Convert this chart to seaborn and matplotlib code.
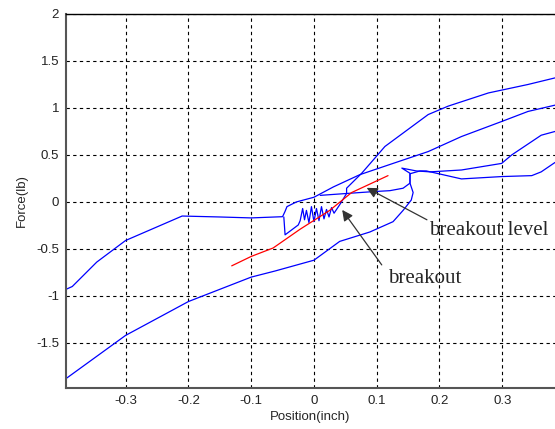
import matplotlib
matplotlib.use("Agg")
import matplotlib.pyplot as plt
import seaborn as sns
import pandas as pd

# upper-left branch joined to the middle right branch
a_x = [-0.395, -0.385, -0.346, -0.30, -0.21, -0.15, -0.10, -0.05, -0.046, -0.043, -0.028, 0.0, 0.031,
       0.073, 0.126, 0.182, 0.235, 0.299, 0.341, 0.384]
a_y = [-0.93, -0.90, -0.64, -0.41, -0.15, -0.16, -0.17, -0.157, -0.10, -0.05, 0.0, 0.05, 0.16,
       0.29, 0.41, 0.536, 0.696, 0.856, 0.963, 1.03]

# lower-left branch, loop at the right, then the 0.4-0.75 branch
b_x = [-0.395, -0.3, -0.2, -0.1, -0.062, 0.0, 0.041, 0.089, 0.126, 0.142, 0.155, 0.158, 0.153,
       0.153, 0.14, 0.163, 0.185, 0.235, 0.299, 0.315, 0.362, 0.384]
b_y = [-1.88, -1.42, -1.06, -0.80, -0.735, -0.62, -0.42, -0.32, -0.21, -0.09, 0.02, 0.10, 0.20,
       0.305, 0.36, 0.33, 0.32, 0.34, 0.41, 0.50, 0.71, 0.75]

# top branch coming down into the noisy breakout region
c_x = [0.384, 0.341, 0.278, 0.214, 0.182, 0.113, 0.097, 0.076, 0.052, 0.052, 0.041, 0.032,
       0.028, 0.024, 0.020, 0.016, 0.012, 0.008, 0.004, 0.0, -0.004, -0.008, -0.012, -0.015,
       -0.018, -0.022, -0.025, -0.046, -0.048]
c_y = [1.32, 1.25, 1.16, 1.02, 0.93, 0.59, 0.466, 0.305, 0.146, 0.09, -0.03, -0.12,
       -0.06, -0.16, -0.08, -0.18, -0.05, -0.20, -0.07, -0.21, -0.05, -0.22, -0.09, -0.19,
       -0.07, -0.20, -0.245, -0.35, -0.16]

# breakout level strand and lowest right branch
d_x = [0.01, 0.052, 0.095, 0.121, 0.142, 0.153, 0.153, 0.169, 0.179, 0.235, 0.299, 0.347, 0.362, 0.384]
d_y = [0.07, 0.09, 0.11, 0.12, 0.146, 0.20, 0.30, 0.33, 0.33, 0.245, 0.27, 0.28, 0.32, 0.42]

# fitted line (red)
fit_x = [-0.131, -0.10, -0.065, -0.022, 0.025, 0.06, 0.118]
fit_y = [-0.68, -0.58, -0.49, -0.29, -0.09, 0.10, 0.28]

xticks = [-0.3, -0.2, -0.1, 0, 0.1, 0.2, 0.3]
xtick_labels = ["-0.3", "-0.2", "-0.1", "0", "0.1", "0.2", "0.3"]
yticks = [-1.5, -1, -0.5, 0, 0.5, 1, 1.5, 2]
ytick_labels = ["-1.5", "-1", "-0.5", "0", "0.5", "1", "1.5", "2"]

sns.set_style("white")
plt.rcParams["font.family"] = ["Liberation Sans", "DejaVu Sans"]

fig = plt.figure(figsize=(5.55, 4.29), dpi=100)
ax = fig.add_axes([66 / 555, 41 / 429, 1 - 66 / 555, 374 / 429])

for xs, ys in [(a_x, a_y), (b_x, b_y), (c_x, c_y), (d_x, d_y)]:
    df = pd.DataFrame({"x": xs, "y": ys})
    sns.lineplot(data=df, x="x", y="y", sort=False, estimator=None, color="#0000ff", lw=0.9, ax=ax)
fit = pd.DataFrame({"x": fit_x, "y": fit_y})
sns.lineplot(data=fit, x="x", y="y", sort=False, estimator=None, color="#ff0000", lw=0.9, ax=ax)

ax.set_xlim(-0.395, 0.384)
ax.set_ylim(-1.98, 2)
ax.set_xticks(xticks)
ax.set_xticklabels(xtick_labels)
ax.set_yticks(yticks)
ax.set_yticklabels(ytick_labels)
ax.tick_params(length=0, labelsize=9.5, pad=5, colors="#222222")
ax.grid(True, color="black", linestyle=(0, (3, 3)), lw=0.8)
ax.set_axisbelow(True)

for side in ["left", "bottom"]:
    ax.spines[side].set_color("#555555")
    ax.spines[side].set_linewidth(1.5)
ax.spines["top"].set_color("black")
ax.spines["top"].set_linewidth(1.0)
ax.spines["right"].set_visible(False)

ax.set_xlabel("Position(inch)", fontsize=9.5, labelpad=3)
ax.set_ylabel("Force(lb)", fontsize=9.5, labelpad=6)

arrow = dict(arrowstyle="-|>", color="#333333", lw=0.9, mutation_scale=16, shrinkA=0, shrinkB=0)
ax.annotate("", xy=(0.084, 0.15), xytext=(0.18, -0.19), arrowprops=arrow)
ax.annotate("", xy=(0.045, -0.085), xytext=(0.108, -0.67), arrowprops=arrow)
ax.text(0.183, -0.30, "breakout level", fontsize=15, family="Liberation Serif", va="center", ha="left")
ax.text(0.118, -0.81, "breakout", fontsize=15, family="Liberation Serif", va="center", ha="left")

fig.savefig("out.png", dpi=100)
